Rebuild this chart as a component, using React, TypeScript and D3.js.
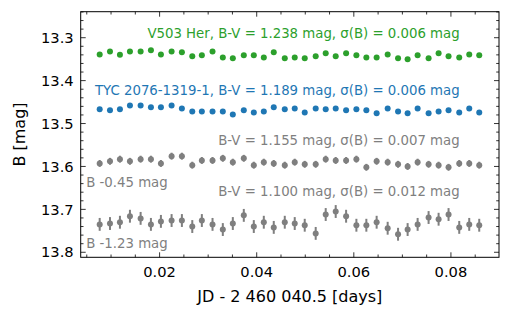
import React from "react";
import * as d3 from "d3";

// observation times, JD - 2460040.5
const times = [
  0.00766, 0.00978, 0.01183, 0.01389, 0.01609, 0.01821, 0.02027, 0.02247,
  0.02459, 0.02673, 0.0287, 0.0309, 0.03302, 0.03508, 0.03734, 0.0394,
  0.04146, 0.04351, 0.04578, 0.04783, 0.04989, 0.05215, 0.05421, 0.05627,
  0.05841, 0.06053, 0.06258, 0.0647, 0.06697, 0.06911, 0.07108, 0.07314,
  0.0754, 0.07746, 0.07951, 0.08171, 0.08377, 0.08583,
];

// V503 Her
const varMag = [
  13.339, 13.332, 13.34, 13.332, 13.332, 13.329, 13.339, 13.332, 13.334,
  13.343, 13.341, 13.332, 13.346, 13.348, 13.341, 13.341, 13.346, 13.334,
  13.348, 13.346, 13.348, 13.343, 13.336, 13.343, 13.336, 13.341, 13.346,
  13.346, 13.339, 13.348, 13.35, 13.341, 13.348, 13.336, 13.343, 13.346,
  13.339, 13.341,
];

// TYC 2076-1319-1
const tycMag = [
  13.467, 13.469, 13.467, 13.458, 13.458, 13.462, 13.462, 13.458, 13.465,
  13.472, 13.472, 13.472, 13.472, 13.479, 13.469, 13.474, 13.472, 13.462,
  13.467, 13.465, 13.474, 13.465, 13.467, 13.465, 13.469, 13.467, 13.469,
  13.476, 13.465, 13.472, 13.476, 13.465, 13.476, 13.472, 13.469, 13.474,
  13.465, 13.474,
];

// check star 1 (shifted by -0.45 mag)
const chk1Mag = [
  13.593, 13.588, 13.583, 13.588, 13.583, 13.583, 13.593, 13.576, 13.576,
  13.597, 13.586, 13.586, 13.581, 13.59, 13.581, 13.597, 13.59, 13.593,
  13.597, 13.59, 13.595, 13.595, 13.583, 13.586, 13.586, 13.583, 13.602,
  13.588, 13.59, 13.595, 13.6, 13.59, 13.595, 13.597, 13.602, 13.593,
  13.593, 13.597,
];
const chk1Err = 0.008;

// check star 2 (shifted by -1.23 mag)
const chk2Mag = [
  13.735, 13.733, 13.73, 13.716, 13.721, 13.735, 13.728, 13.726, 13.726,
  13.74, 13.726, 13.735, 13.747, 13.733, 13.714, 13.74, 13.73, 13.742,
  13.73, 13.733, 13.737, 13.756, 13.712, 13.705, 13.716, 13.737, 13.737,
  13.73, 13.744, 13.758, 13.747, 13.735, 13.719, 13.723, 13.712, 13.742,
  13.735, 13.737,
];
const chk2Err = 0.015;

const xMajor = [0.02, 0.04, 0.06, 0.08];
const yMajor = [13.3, 13.4, 13.5, 13.6, 13.7, 13.8];

const GREEN = "#2ca02c";
const BLUE = "#1f77b4";
const GREY = "#7f7f7f";
const FONT = "DejaVu Sans, sans-serif";

export default function App() {
  const left = 80.7, right = 499, top = 11.7, bottom = 257.3;

  const x = d3.scaleLinear().domain([0.00375, 0.0899]).range([left, right]);
  const y = d3.scaleLinear().domain([13.2394, 13.8117]).range([top, bottom]);

  const xMinor = d3.range(0.005, 0.09, 0.005).filter(
    (v) => !xMajor.some((m) => Math.abs(m - v) < 1e-9)
  );
  const yMinor = d3.range(13.24, 13.812, 0.02).filter(
    (v) => !yMajor.some((m) => Math.abs(m - v) < 1e-9)
  );

  const series = [
    { mag: varMag, err: 0, color: GREEN },
    { mag: tycMag, err: 0, color: BLUE },
    { mag: chk1Mag, err: chk1Err, color: GREY },
    { mag: chk2Mag, err: chk2Err, color: GREY },
  ];

  const majLen = 5, minLen = 2.8;

  return (
    <svg
      width={510}
      height={317}
      style={{ position: "absolute", left: 0, top: 0 }}
      fontFamily={FONT}
    >
      <rect width={510} height={317} fill="white" />

      {/* data */}
      {series.map((s, si) => (
        <g key={si}>
          {s.err > 0 &&
            s.mag.map((m, i) => (
              <line
                key={"e" + i}
                x1={x(times[i])}
                x2={x(times[i])}
                y1={y(m - s.err)}
                y2={y(m + s.err)}
                stroke={s.color}
                strokeWidth={2}
              />
            ))}
          {s.mag.map((m, i) => (
            <circle key={i} cx={x(times[i])} cy={y(m)} r={3} fill={s.color} />
          ))}
        </g>
      ))}

      {/* annotations */}
      <g fontSize={13.3}>
        <text x={x(0.0818)} y={y(13.291)} dy="0.35em" textAnchor="end" fill={GREEN}>
          V503 Her, B-V = 1.238 mag, σ(B) = 0.006 mag
        </text>
        <text x={x(0.0818)} y={y(13.422)} dy="0.35em" textAnchor="end" fill={BLUE}>
          TYC 2076-1319-1, B-V = 1.189 mag, σ(B) = 0.006 mag
        </text>
        <text x={x(0.0818)} y={y(13.54)} dy="0.35em" textAnchor="end" fill={GREY}>
          B-V = 1.155 mag, σ(B) = 0.007 mag
        </text>
        <text x={x(0.0818)} y={y(13.659)} dy="0.35em" textAnchor="end" fill={GREY}>
          B-V = 1.100 mag, σ(B) = 0.012 mag
        </text>
        <text x={left + 5.5} y={y(13.636)} dy="0.35em" fill={GREY}>
          B -0.45 mag
        </text>
        <text x={left + 5.5} y={y(13.779)} dy="0.35em" fill={GREY}>
          B -1.23 mag
        </text>
      </g>

      {/* ticks, pointing inward on all sides */}
      <g stroke="black" strokeWidth={0.8}>
        {xMajor.map((v) => (
          <g key={"xM" + v}>
            <line x1={x(v)} x2={x(v)} y1={bottom} y2={bottom - majLen} />
            <line x1={x(v)} x2={x(v)} y1={top} y2={top + majLen} />
          </g>
        ))}
        {xMinor.map((v) => (
          <g key={"xm" + v}>
            <line x1={x(v)} x2={x(v)} y1={bottom} y2={bottom - minLen} />
            <line x1={x(v)} x2={x(v)} y1={top} y2={top + minLen} />
          </g>
        ))}
        {yMajor.map((v) => (
          <g key={"yM" + v}>
            <line x1={left} x2={left + majLen} y1={y(v)} y2={y(v)} />
            <line x1={right} x2={right - majLen} y1={y(v)} y2={y(v)} />
          </g>
        ))}
        {yMinor.map((v) => (
          <g key={"ym" + v}>
            <line x1={left} x2={left + minLen} y1={y(v)} y2={y(v)} />
            <line x1={right} x2={right - minLen} y1={y(v)} y2={y(v)} />
          </g>
        ))}
      </g>

      <rect
        x={left}
        y={top}
        width={right - left}
        height={bottom - top}
        fill="none"
        stroke="black"
        strokeWidth={1}
      />

      {/* tick labels */}
      <g fontSize={14.7} fill="black">
        {xMajor.map((v) => (
          <text key={"xl" + v} x={x(v)} y={bottom + 19.5} textAnchor="middle">
            {d3.format(".2f")(v)}
          </text>
        ))}
        {yMajor.map((v) => (
          <text key={"yl" + v} x={left - 7} y={y(v)} dy="0.35em" textAnchor="end">
            {d3.format(".1f")(v)}
          </text>
        ))}
      </g>

      {/* axis labels */}
      <text x={(left + right) / 2} y={302} fontSize={16} textAnchor="middle">
        JD - 2 460 040.5 [days]
      </text>
      <text
        transform={`translate(25, ${(top + bottom) / 2}) rotate(-90)`}
        fontSize={16}
        textAnchor="middle"
      >
        B [mag]
      </text>
    </svg>
  );
}
